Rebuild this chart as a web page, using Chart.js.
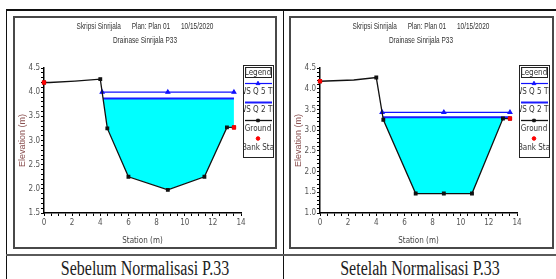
<!DOCTYPE html>
<html>
<head>
<meta charset="utf-8">
<script src="https://cdn.jsdelivr.net/npm/chart.js@4.4.1/dist/chart.umd.min.js"></script>
<style>
  html, body { margin: 0; padding: 0; background: #fff; }
  body { width: 556px; height: 279px; position: relative; overflow: hidden; }
  .rule { position: absolute; background: #111; }
  .frame { position: absolute; border: 2px solid #484848; box-sizing: border-box; pointer-events: none; z-index: 2; }
  canvas.plot { position: absolute; top: 17px; }
  .title { position: absolute; width: 262px; text-align: center; white-space: pre; color: #333;
           font-family: 'Liberation Sans', sans-serif; font-size: 9px;
           transform: scaleX(0.72); transform-origin: 50% 50%; }
  .caption { position: absolute; top: 262px; line-height: 16px; text-align: center; color: #222;
             font-family: 'Liberation Serif', 'Times New Roman', serif; font-size: 16px;
             transform: scaleY(1.35); transform-origin: 50% 13px; }
</style>
</head>
<body>
<!-- table rules -->
<div class="rule" style="left:6px; top:9px; width:550px; height:2px;"></div>
<div class="rule" style="left:6px; top:9px; width:1px; height:270px;"></div>
<div class="rule" style="left:283px; top:9px; width:1px; height:270px;"></div>
<div class="rule" style="left:6px; top:254px; width:550px; height:2px; background:#5a5a5a;"></div>

<!-- left panel -->
<div class="frame" style="left:13px; top:16px; width:264px; height:233px;"></div>
<canvas id="before" class="plot" width="262" height="231" style="left:14px;"></canvas>
<div class="title" style="left:14px; top:21px;">Skripsi Sinrijala      Plan: Plan 01      10/15/2020</div>
<div class="title" style="left:14px; top:35px;">Drainase Sinrijala P33</div>

<!-- right panel -->
<div class="frame" style="left:289px; top:16px; width:265px; height:233px;"></div>
<canvas id="after" class="plot" width="262" height="231" style="left:290px;"></canvas>
<div class="title" style="left:290px; top:21px;">Skripsi Sinrijala      Plan: Plan 01      10/15/2020</div>
<div class="title" style="left:290px; top:35px;">Drainase Sinrijala P33</div>

<div class="caption" style="left:7px; width:276px;">Sebelum Normalisasi P.33</div>
<div class="caption" style="left:284px; width:272px;">Setelah Normalisasi P.33</div>

<script>
// Sebelum normalisasi (before)
const beforeStation = [0, 0.4, 2.2, 4.0, 4.5, 6.0, 8.8, 11.4, 13.0, 13.5];
const beforeElev = [4.2, 4.2, 4.23, 4.27, 3.25, 2.25, 1.98, 2.25, 3.27, 3.27];
const beforeWsQ5 = 4.0;
const beforeWsQ2 = 3.87;
const beforeElevTicks = [1.5, 2.0, 2.5, 3.0, 3.5, 4.0, 4.5];

// Setelah normalisasi (after)
const afterStation = [0, 2.4, 4.0, 4.5, 6.8, 8.8, 10.8, 13.0, 13.5];
const afterElev = [4.18, 4.21, 4.27, 3.25, 1.47, 1.47, 1.47, 3.28, 3.28];
const afterWsQ5 = 3.43;
const afterWsQ2 = 3.31;
const afterElevTicks = [1.0, 1.5, 2.0, 2.5, 3.0, 3.5, 4.0, 4.5];

// shared
const stationTicks = [0, 2, 4, 6, 8, 10, 12, 14];
const bankStations = [0, 13.5];
const wsMidStation = 8.8;
const legendLabels = ['WS Q 5 Th', 'WS Q 2 Th', 'Ground', 'Bank Sta'];

const narrow = "'Liberation Sans Narrow', 'DejaVu Sans Condensed', 'Liberation Sans', sans-serif";

function isTick(list, v) {
  return list.some(t => Math.abs(t - v) < 1e-6);
}

// where the left bank drops below a water level
function leftCrossing(station, elev, level) {
  for (let i = 0; i < station.length - 1; i++) {
    if (elev[i] >= level && elev[i + 1] < level) {
      const t = (elev[i] - level) / (elev[i] - elev[i + 1]);
      return station[i] + t * (station[i + 1] - station[i]);
    }
  }
  return station[0];
}

function elevAt(station, elev, s) {
  return elev[station.indexOf(s)];
}

// HEC-RAS style legend box, clipped like the original
const legendBox = {
  id: 'legendBox',
  afterDraw(chart) {
    const ctx = chart.ctx;
    const x = 229, y = 48, w = 30, h = 92;
    const cx = x + w / 2;
    const ds = chart.data.datasets;
    ctx.save();
    ctx.fillStyle = '#fff';
    ctx.fillRect(x, y, w, h);
    ctx.strokeStyle = '#222';
    ctx.lineWidth = 1;
    ctx.strokeRect(x + 0.5, y + 0.5, w, h);
    ctx.strokeRect(x + 2.5, y + 2.5, w - 4, 10);
    ctx.beginPath();
    ctx.rect(x + 1, y + 1, w - 1, h - 1);
    ctx.clip();
    ctx.font = '8px ' + narrow;
    ctx.fillStyle = '#333';
    ctx.textAlign = 'center';
    ctx.textBaseline = 'middle';
    ctx.fillText('Legend', cx, y + 7.5);

    const rows = [
      { line: 18, text: 27 },
      { line: 37, text: 45 },
      { line: 55, text: 64 },
      { line: 73, text: 83 }
    ];
    rows.forEach((r, i) => {
      const d = ds[i];
      const ly = y + r.line + 0.5;
      if (d.showLine !== false) {
        ctx.strokeStyle = d.borderColor;
        ctx.lineWidth = d.borderWidth;
        ctx.beginPath();
        ctx.moveTo(x + 2, ly);
        ctx.lineTo(x + w - 1, ly);
        ctx.stroke();
      }
      if (d.pointStyle) {
        ctx.fillStyle = d.pointBackgroundColor;
        ctx.strokeStyle = d.pointBorderColor;
        ctx.lineWidth = 1;
        Chart.helpers.drawPoint(ctx, {
          pointStyle: i === 3 ? 'circle' : d.pointStyle,
          radius: i === 3 ? 1.8 : (i === 2 ? 1.8 : 2.2),
          borderWidth: 1,
          rotation: 0
        }, cx, ly);
      }
      ctx.fillStyle = '#333';
      ctx.fillText(d.label, cx, y + r.text);
    });
    ctx.restore();
  }
};

function buildChart(id, station, elev, wsQ5, wsQ2, yMin, elevTicks) {
  const ground = station.map((s, i) => ({ x: s, y: elev[i] }));
  const last = station[station.length - 1];
  const q5 = [
    { x: leftCrossing(station, elev, wsQ5), y: wsQ5 },
    { x: wsMidStation, y: wsQ5 },
    { x: last, y: wsQ5 }
  ];
  const q2 = [
    { x: leftCrossing(station, elev, wsQ2), y: wsQ2 },
    { x: last, y: wsQ2 }
  ];
  const banks = bankStations.map(s => ({ x: s, y: elevAt(station, elev, s) }));

  return new Chart(document.getElementById(id), {
    type: 'line',
    data: {
      datasets: [
        {
          label: legendLabels[0],
          data: q5,
          borderColor: '#1010ff',
          borderWidth: 1.2,
          pointStyle: 'triangle',
          pointRadius: 2.2,
          pointBackgroundColor: '#1010ff',
          pointBorderColor: '#1010ff',
          order: 3,
          clip: false
        },
        {
          label: legendLabels[1],
          data: q2,
          borderColor: '#1a1aff',
          borderWidth: 2,
          pointRadius: 0,
          fill: { target: 2, above: '#00ffff', below: 'rgba(0,0,0,0)' },
          order: 4,
          clip: false
        },
        {
          label: legendLabels[2],
          data: ground,
          borderColor: '#111',
          borderWidth: 1.3,
          pointStyle: 'rect',
          // the overbank points left of the channel carry no marker in the original
          pointRadius: c => (c.raw && c.raw.x > 0 && c.raw.x < 4) ? 0 : 1.8,
          pointBackgroundColor: '#111',
          pointBorderColor: '#111',
          order: 2,
          clip: false
        },
        {
          label: legendLabels[3],
          data: banks,
          showLine: false,
          borderColor: '#ff0000',
          pointStyle: 'rect',
          pointRadius: 2.4,
          pointBackgroundColor: '#ff0000',
          pointBorderColor: '#ff0000',
          order: 1,
          clip: false
        }
      ]
    },
    options: {
      responsive: false,
      animation: false,
      events: [],
      layout: { padding: { top: 51, right: 35, left: 0, bottom: 0 } },
      plugins: {
        legend: { display: false },
        tooltip: { enabled: false }
      },
      elements: { line: { tension: 0 } },
      scales: {
        x: {
          type: 'linear',
          min: 0,
          max: 14,
          afterFit: s => { s.height = 35; },
          border: { color: '#000', width: 1.5 },
          grid: { drawOnChartArea: false, tickLength: 3, color: '#000', tickWidth: 1 },
          ticks: {
            stepSize: 0.5,
            autoSkip: false,
            maxRotation: 0,
            padding: 2,
            color: '#555',
            font: { family: narrow, size: 8 },
            callback: v => isTick(stationTicks, v) ? String(Math.round(v)) : ''
          },
          title: {
            display: true,
            text: 'Station (m)',
            color: '#444',
            padding: { top: 0, bottom: 2 },
            font: { family: narrow, size: 8 }
          }
        },
        y: {
          min: yMin,
          max: 4.5,
          afterFit: s => { s.width = 30; },
          border: { color: '#000', width: 1.5 },
          grid: { drawOnChartArea: false, tickLength: 3, color: '#000', tickWidth: 1 },
          ticks: {
            stepSize: 0.1,
            autoSkip: false,
            maxTicksLimit: 100,
            padding: 1,
            color: '#555',
            font: { family: narrow, size: 8 },
            callback: v => isTick(elevTicks, v) ? v.toFixed(1) : ''
          },
          title: {
            display: true,
            text: 'Elevation (m)',
            color: '#8a5050',
            padding: { top: 3, bottom: 0 },
            font: { family: "'Liberation Sans', sans-serif", size: 9 }
          }
        }
      }
    },
    plugins: [legendBox]
  });
}

buildChart('before', beforeStation, beforeElev, beforeWsQ5, beforeWsQ2, 1.5, beforeElevTicks);
buildChart('after', afterStation, afterElev, afterWsQ5, afterWsQ2, 1.0, afterElevTicks);
</script>
</body>
</html>
